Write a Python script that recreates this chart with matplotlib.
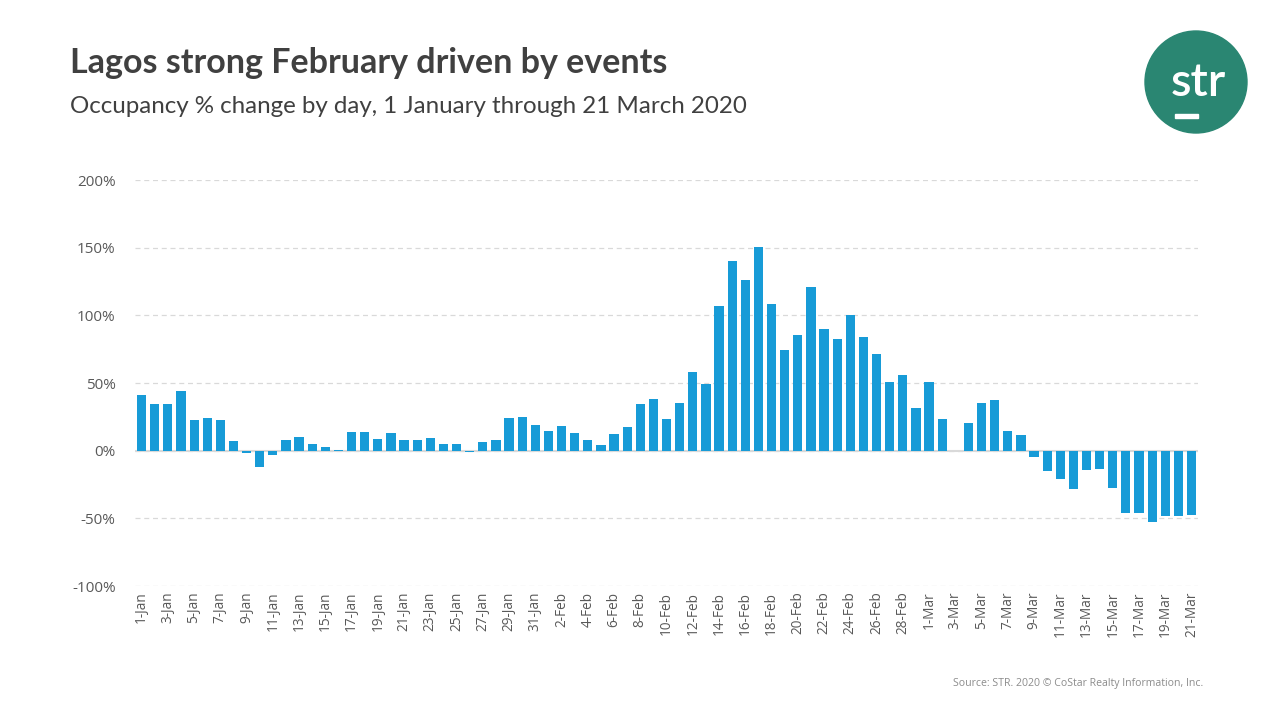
import numpy as np
import pandas as pd
import matplotlib
matplotlib.use('Agg')
from matplotlib import pyplot as plt
from matplotlib.patches import Circle, Rectangle
from matplotlib.ticker import FuncFormatter

plt.rcParams['font.family'] = ['Open Sans', 'DejaVu Sans']

# occupancy % change by day, 1 Jan - 21 Mar 2020
jan = [41.5, 34.8, 34.8, 44.4, 23.0, 24.4, 23.0, 7.4, -1.5, -11.9,
       -3.0, 8.1, 10.4, 5.2, 3.0, 0.7, 14.0, 14.0, 8.9, 13.3,
       8.1, 8.1, 9.6, 5.2, 5.2, -1.2, 6.7, 8.1, 24.4, 25.2, 19.3]
feb = [14.8, 18.5, 13.3, 8.1, 4.4, 12.6, 17.8, 34.8, 38.5, 23.7,
       35.6, 58.5, 49.6, 106.7, 140.0, 125.9, 150.4, 108.1, 74.1, 85.2,
       120.7, 89.6, 82.2, 100.0, 83.7, 71.1, 50.4, 56.3, 31.9]
mar = [51.1, 23.7, 0.0, 20.7, 35.6, 37.8, 14.8, 11.9, -4.4, -14.8,
       -20.7, -28.1, -14.1, -13.3, -27.4, -45.9, -45.9, -52.6, -48.1, -48.1,
       -47.4]

dates = pd.date_range('2020-01-01', '2020-03-21', freq='D')
labels = [f'{d.day}-{d.strftime("%b")}' for d in dates]
values = np.array(jan + feb + mar) / 100.0

fig = plt.figure(figsize=(12.8, 7.2), dpi=100)
ax = fig.add_axes([0.1055, 0.186, 0.8305, 0.564])

x = np.arange(len(values))
ax.bar(x, values, width=0.7, color='#179bd7', zorder=3)

ax.set_xlim(-0.5, len(values) - 0.5)
ax.set_ylim(-1.0, 2.0)
ax.set_yticks([-1.0, -0.5, 0, 0.5, 1.0, 1.5, 2.0])
ax.yaxis.set_major_formatter(FuncFormatter(lambda v, p: f'{v*100:.0f}%'))
ax.grid(axis='y', ls=(0, (4, 3)), color='#d9d9d9', lw=0.9, zorder=0)
ax.axhline(0, color='#d9d9d9', lw=1.5, zorder=2)

ax.set_xticks(x[::2])
ax.set_xticklabels(labels[::2], rotation=90, fontsize=9.8, color='#595959')
ax.tick_params(axis='x', length=0, pad=4)
ax.tick_params(axis='y', length=0, pad=14, labelsize=11, labelcolor='#595959')
for s in ax.spines.values():
    s.set_visible(False)

fig.text(0.0547, 0.913, 'Lagos strong February driven by events', fontsize=24.5,
         fontweight='bold', color='#404040', va='center', family='Lato')
fig.text(0.0547, 0.852, 'Occupancy % change by day, 1 January through 21 March 2020',
         fontsize=17.4, color='#404040', va='center', family='Lato')
fig.text(0.94, 0.051, 'Source: STR. 2020 \u00a9 CoStar Realty Information, Inc.',
         fontsize=7.6, color='#8c8c8c', ha='right', va='center')

# logo
lax = fig.add_axes([0, 0, 1, 1], zorder=-1)
lax.set_xlim(0, 1280)
lax.set_ylim(720, 0)
lax.axis('off')
lax.add_patch(Circle((1196, 82), 51, color='#2a8672'))
lax.text(1198, 83, 'str', fontsize=34, color='white', ha='center', va='center',
         family='Lato', fontweight='semibold')
lax.add_patch(Rectangle((1175, 114), 23, 4, color='white'))

fig.savefig('out.png', dpi=100)
